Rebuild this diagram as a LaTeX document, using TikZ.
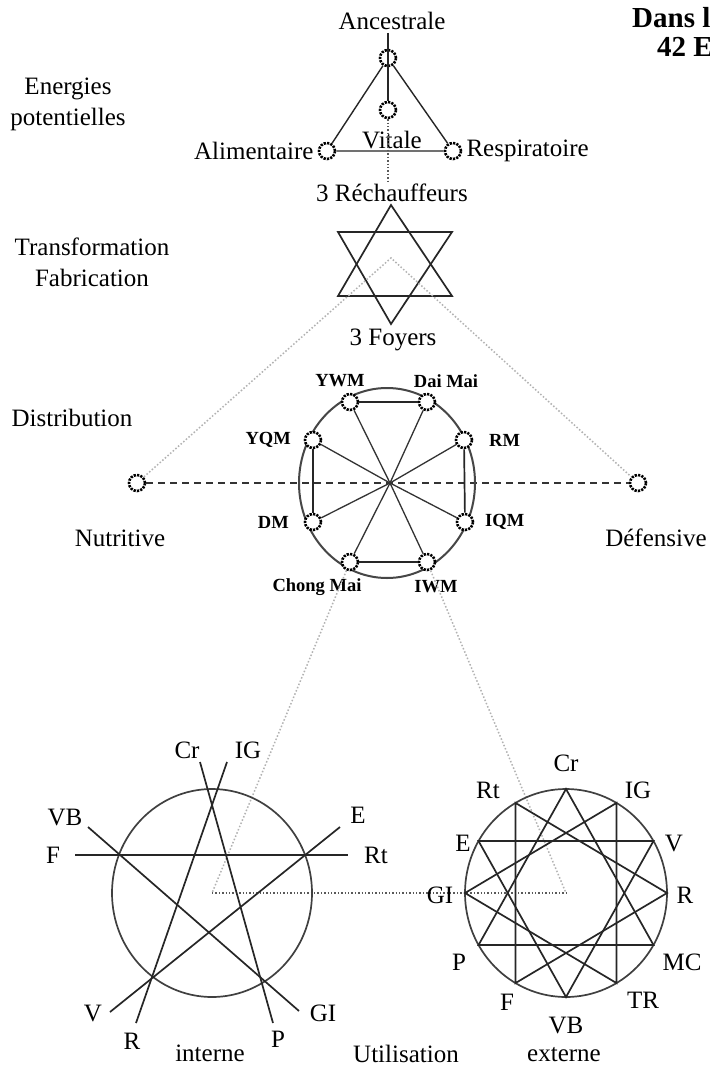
\documentclass[tikz,border=0pt]{standalone}
\usepackage{fontspec}
\setmainfont{Liberation Serif}
\usetikzlibrary{positioning,calc}

\tikzset{
  gear/.style={circle,draw=black,line width=2.6pt,dash pattern=on 2.2pt off 1.2pt,
    minimum size=16pt,inner sep=0pt},
  lbl/.style={font=\fontsize{25}{31}\selectfont,align=center,inner sep=1pt},
  mlbl/.style={font=\fontsize{18.5}{20}\selectfont\bfseries,inner sep=1pt},
  trait/.style={draw=black!85,line width=1.7pt},
  rayon/.style={draw=black!80,line width=1.3pt},
  pointille/.style={draw=gray!60,dotted,line width=1.5pt},
  pointnoir/.style={draw=black!65,dotted,line width=1.4pt},
}

\begin{document}
\begin{tikzpicture}[x=1pt,y=-1pt]
  \useasboundingbox (0,0) rectangle (709,1070);
  \fill[white] (0,0) rectangle (709,1070);

  % titre coupe
  \node[font=\fontsize{29}{32}\selectfont\bfseries,anchor=base west,inner sep=0pt] (titre1) at (632,28) {Dans le};
  \node[font=\fontsize{29}{32}\selectfont\bfseries,anchor=base west,inner sep=0pt] (titre2) at (657,57) {42 Energies};

  % niveaux
  \node[lbl] (niv1) at (68,104) {Energies\\potentielles};
  \node[lbl] (niv2) at (92,262) {Transformation\\Fabrication};
  \node[lbl] (niv3) at (72,418) {Distribution};
  \node[lbl] (niv4) at (406,1054) {Utilisation};

  % energies potentielles
  \node[gear] (anc) at (388,58) {};
  \node[gear] (vit) at (388,110) {};
  \node[gear] (alim) at (327,151) {};
  \node[gear] (resp) at (453,151) {};
  \coordinate (anctop) at (388,33);
  \node[lbl] (ancl) at (392,21) {Ancestrale};
  \node[lbl] (vitl) at (392,140) {Vitale};
  \node[lbl,left=3pt of alim] (aliml) {Alimentaire};
  \node[lbl,right=3pt of resp] (respl) {Respiratoire};
  \draw[trait,line width=1.4pt] (anc) -- (alim) -- (resp) -- (anc);
  \draw[trait,line width=1.4pt] (anctop) -- (vit);

  % trois rechauffeurs
  \node[lbl] (rech) at (392,193) {3 Réchauffeurs};
  \node[lbl] (foy) at (393,340) {3 Foyers};
  \draw[pointnoir] (vit) -- (vit |- rech.north);
  \coordinate (s1) at (391,205);
  \coordinate (s2) at (338,296);
  \coordinate (s3) at (452,296);
  \coordinate (s4) at (338,232);
  \coordinate (s5) at (452,232);
  \coordinate (s6) at (391,324);
  \coordinate (sommet) at (391,258);
  \draw[trait] (s1) -- (s2) -- (s3) -- cycle;
  \draw[trait] (s4) -- (s5) -- (s6) -- cycle;

  % distribution
  \node[gear] (nutri) at (137,483) {};
  \node[gear] (defen) at (638,483) {};
  \node[lbl] (nutril) at (120,538) {Nutritive};
  \node[lbl] (defenl) at (656,538) {Défensive};
  \draw[pointille] (nutri) -- (sommet) -- (defen);
  \draw[draw=black!80,line width=1.4pt,dash pattern=on 7pt off 5pt] (nutri) -- (defen);

  \coordinate (hub) at (390,483);
  \draw[line width=2pt,gray!55!black] (387,483) ellipse (88 and 95);
  \foreach \n/\x/\y in {ywm/350/402,dai/427/402,rm/464/440,iqm/465/522,
                        iwm/427/562,chong/350/562,yqm/313/440,dm/313/522}{
    \node[gear,fill=white] (\n) at (\x,\y) {};
    \draw[rayon] (\n) -- (hub);
  }
  \draw[trait] (ywm) -- (dai);
  \draw[trait] (chong) -- (iwm);
  \draw[trait] (yqm) -- (dm);
  \draw[trait] (rm) -- (iqm);
  \node[mlbl] (ywml) at (340,381) {YWM};
  \node[mlbl] (dail) at (446,381) {Dai Mai};
  \node[mlbl,anchor=west] (rml) at (488,440) {RM};
  \node[mlbl,anchor=west] (iqml) at (484,522) {IQM};
  \node[mlbl] (iwml) at (436,587) {IWM};
  \node[mlbl] (chongl) at (317,587) {Chong Mai};
  \node[mlbl,anchor=east] (yqml) at (292,440) {YQM};
  \node[mlbl,anchor=east] (dml) at (290,522) {DM};

  % utilisation
  \coordinate (cg) at (212,893);
  \coordinate (cd) at (566,893);
  \draw[pointille] (chong) -- (cg);
  \draw[pointille] (iwm) -- (cd);
  \draw[pointnoir] (cg) -- (cd);

  % interne : pentagramme
  \draw[trait,draw=black!75] (cg) ellipse (100 and 104);
  \coordinate (gcr) at (200,762);
  \coordinate (gp) at (273,1023);
  \coordinate (gig) at (227,762);
  \coordinate (gr) at (136,1023);
  \coordinate (gvb) at (88,827);
  \coordinate (ggi) at (299,1011);
  \coordinate (ge) at (340,827);
  \coordinate (gv) at (110,1012);
  \coordinate (gf) at (75,855);
  \coordinate (grt) at (348,855);
  \draw[trait] (gcr) -- (gp);
  \draw[trait] (gig) -- (gr);
  \draw[trait] (gvb) -- (ggi);
  \draw[trait] (ge) -- (gv);
  \draw[trait] (gf) -- (grt);
  \foreach \n/\t/\x/\y in {crl/Cr/187/750,igl/IG/248/750,vbl/VB/65/817,fl/F/53/855,
                           el/E/358/815,rtl/Rt/376/855,vl/V/93/1013,rl/R/132/1041,
                           pl/P/278/1039,gil/GI/323/1013}
    \node[lbl] (g\n) at (\x,\y) {\t};
  \node[lbl] (interne) at (210,1053) {interne};

  % externe : dodecagramme
  \draw[trait,draw=black!75] (cd) ellipse (101 and 104);
  \foreach \n/\a in {cr/90,ig/60,v/30,r/0,mc/-30,tr/-60,vb/-90,f/-120,p/-150,gi/180,e/150,rt/120}
    \coordinate (d\n) at ({566+101*cos(\a)},{893-104*sin(\a)});
  \draw[trait] (dcr) -- (dp) -- (dmc) -- cycle;
  \draw[trait] (dig) -- (dgi) -- (dtr) -- cycle;
  \draw[trait] (dv) -- (de) -- (dvb) -- cycle;
  \draw[trait] (dr) -- (drt) -- (df) -- cycle;
  \foreach \n/\t/\x/\y in {crl/Cr/566/763,igl/IG/638/790,vl/V/674/843,rl/R/685/895,
                           mcl/MC/682/962,trl/TR/643/1000,vbl/VB/566/1025,fl/F/507/1002,
                           pl/P/459/962,gil/GI/440/895,el/E/463/843,rtl/Rt/488/790}
    \node[lbl] (d\n) at (\x,\y) {\t};
  \node[lbl] (externe) at (564,1055) {externe};
\end{tikzpicture}
\end{document}
